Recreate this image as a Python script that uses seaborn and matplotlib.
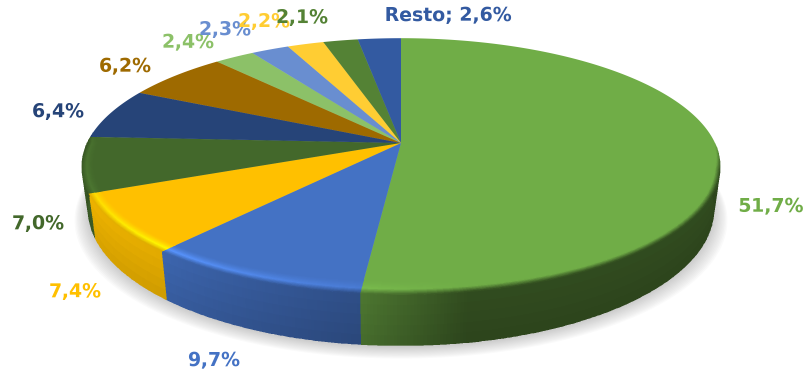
import numpy as np
import matplotlib
matplotlib.use("Agg")
import matplotlib.pyplot as plt
import matplotlib.transforms as mtransforms
from matplotlib.path import Path
import seaborn as sns

values = [51.7, 9.7, 7.4, 7.0, 6.4, 6.2, 2.4, 2.3, 2.2, 2.1, 2.6]
prefixes = ["", "", "", "", "", "", "", "", "", "", "Resto; "]
slice_colors = ["#70AD47", "#4472C4", "#FFC000", "#43682B", "#264478", "#9E6A00",
                "#8CC168", "#698ED0", "#FFCD33", "#548235", "#335AA1"]

label_xy = [(771, 207), (214, 361), (75, 292), (38, 224), (58, 112), (125, 67),
            (188, 43), (225, 30), (264, 22), (302, 18), (448, 16)]

# projection of the pie plane, in figure pixels
CX, CY, A, B, K, DEPTH, SHRINK = 401.0, 143.0, 314.0, 124.0, 0.183, 41.7, 0.98


def project(u, v, depth=0.0, shrink=1.0):
    w = 1 + K * v
    return CX + A * shrink * u / w, CY + (-B * v + depth) / w


class Perspective(mtransforms.Transform):
    input_dims = output_dims = 2
    is_separable = False
    has_inverse = False

    def transform_non_affine(self, values):
        values = np.asarray(values, float)
        x, y = project(values[:, 0], values[:, 1])
        return np.column_stack([x, y])

    def transform_path_non_affine(self, path):
        pts = [seg(np.linspace(0, 1, 40)) for seg, _ in path.iter_bezier()]
        return Path(self.transform_non_affine(np.vstack(pts)))


sns.set_theme(style="white")
palette = sns.color_palette(slice_colors)

SS = 3  # drawn larger and averaged down, for smooth mesh edges
fig = plt.figure(figsize=(8.05, 3.70), dpi=100 * SS)
ax = fig.add_axes([0, 0, 1, 1])

wedges, _ = ax.pie(values, colors=palette, startangle=90, counterclock=False,
                   radius=1, wedgeprops={"linewidth": 0})
persp = Perspective()
for w in wedges:
    w.set_transform(persp + ax.transData)
    w.set_zorder(5)
    w.set_clip_on(False)
ax.set_aspect("auto")
ax.set_xlim(0, 805)
ax.set_ylim(370, 0)
ax.axis("off")


def light(t):
    return np.interp(t, [90, 170, 186, 221, 248, 272], [.42, .42, .66, .86, .90, .78])


def glow(t):
    return np.interp(t, [90, 170, 186, 221, 248, 272], [1.0, 1.0, 1.08, 1.3, 1.14, 1.08])


# soft shadow under the disc
tt = np.radians(np.linspace(0, 360, 361))
for i in range(12):
    sx, sy = project(np.sin(tt) * (1.0 + i * 0.0022), np.cos(tt), DEPTH + 1 + i * 0.85, SHRINK + i * 0.0016)
    ax.fill(sx, sy, color="#606060", alpha=0.028, lw=0, zorder=1)

# side wall and bevelled rim of every wedge on the visible half
rim_s = np.linspace(0, 1, 15)
wall_s = np.linspace(0, 1, 6)
for w, col in zip(wedges, palette):
    # wedge angles, clockwise from the top of the pie
    t0, t1 = 90 - w.theta2, 90 - w.theta1
    lo, hi = max(t0, 90.0), min(t1, 275.0)
    if hi <= lo:
        continue
    t = np.linspace(lo, hi, max(8, int(2 * (hi - lo))))
    u, v = np.sin(np.radians(t)), np.cos(np.radians(t))
    base = np.array(col)
    width = 12.0 / np.hypot(A * u, B * v / (1 + K * v))
    fade = np.clip((t - 90) / 12, 0, 1) * np.clip((275 - t) / 5, 0, 1)

    xs, ys = [], []
    for s in rim_s:
        r = 1 - width * (1 - s) * (0.25 + 0.75 * fade)
        px, py = project(u * r, v * r)
        xs.append(px)
        ys.append(py)
    for s in wall_s[1:]:
        px, py = project(u, v, DEPTH * s, 1 + (SHRINK - 1) * s)
        xs.append(px)
        ys.append(py)
    X, Y = np.array(xs), np.array(ys)

    tc = 0.5 * (t[:-1] + t[1:])
    wall = base[None, :] * light(tc)[:, None]
    hot = np.clip(base[None, :] * glow(tc)[:, None], 0, 1)
    mid = np.full(tc.shape + (3,), 0.0) + base
    fc = np.clip((tc - 90) / 12, 0, 1)[:, None] * np.clip((275 - tc) / 5, 0, 1)[:, None]
    rows = []
    for s in 0.5 * (rim_s[:-1] + rim_s[1:]):
        a1 = np.clip(s / 0.6, 0, 1) ** 1.5
        a2 = np.clip((s - 0.6) / 0.4, 0, 1)
        c = (mid * (1 - a1) + hot * a1) * (1 - a2) + wall * a2
        rows.append(mid * (1 - fc) + c * fc)
    for s in 0.5 * (wall_s[:-1] + wall_s[1:]):
        rows.append(wall * (1.04 - 0.10 * s))
    C = np.clip(np.stack(rows, axis=0), 0, 1)
    ax.pcolormesh(X, Y, C, shading="flat", antialiased=False, linewidth=0,
                  zorder=3).set_clip_on(False)
    # rim is repeated above the flat top surface
    nr = len(rim_s)
    ax.pcolormesh(X[:nr], Y[:nr], C[:nr - 1], shading="flat", antialiased=False,
                  linewidth=0, zorder=7).set_clip_on(False)

# data labels
for v, pre, col, (x, y) in zip(values, prefixes, palette, label_xy):
    ax.text(x, y, pre + f"{v:.1f}".replace(".", ",") + "%", color=col, ha="center",
            va="center", fontsize=13.6, fontweight="bold", family="DejaVu Sans", zorder=10)

fig.patch.set_facecolor("white")
fig.canvas.draw()
rgba = np.asarray(fig.canvas.buffer_rgba())[..., :3].astype(float)
h, w_px = rgba.shape[0] // SS, rgba.shape[1] // SS
small = rgba[:h * SS, :w_px * SS].reshape(h, SS, w_px, SS, 3).mean(axis=(1, 3))
plt.imsave("out.png", small.astype(np.uint8))
